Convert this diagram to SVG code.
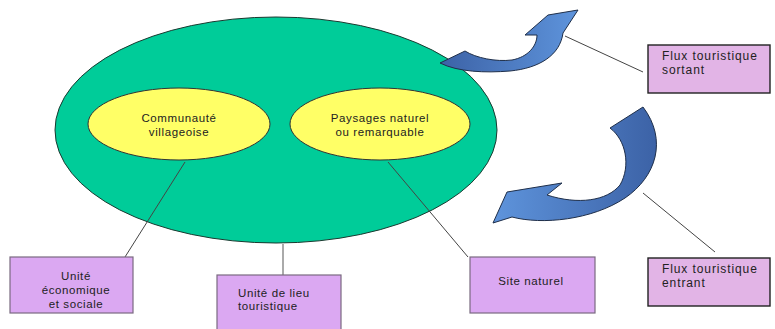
<svg xmlns="http://www.w3.org/2000/svg" width="775" height="329" viewBox="0 0 775 329">
<style>
text{font-family:"Liberation Sans",Arial,sans-serif;font-size:11.5px;fill:#222;letter-spacing:0.6px}
.c{text-anchor:middle}
.box{fill:#dba8f2;stroke:#7a6a80;stroke-width:1.2}
.flux{fill:#e2b4e6;stroke:#222;stroke-width:1.4}
.fx{font-size:12px;letter-spacing:0.9px}
.ln{stroke:#444;stroke-width:1;fill:none}
.arr{stroke:#1f2f4a;stroke-width:1}
</style>
<defs>
<linearGradient id="g1" x1="0" y1="0" x2="1" y2="0">
<stop offset="0" stop-color="#3c62a6"/><stop offset="1" stop-color="#5e94dc"/>
</linearGradient>
<linearGradient id="g2" x1="1" y1="0" x2="0" y2="0">
<stop offset="0" stop-color="#3c62a6"/><stop offset="1" stop-color="#5e94dc"/>
</linearGradient>
</defs>
<rect width="775" height="329" fill="#ffffff"/>
<g id="territoire">
<ellipse cx="276" cy="130" rx="221" ry="113" fill="#00cc99" stroke="#1a3a30" stroke-width="1"/>
</g>
<g id="connectors">
<line class="ln" x1="185" y1="162" x2="125" y2="257"/>
<line class="ln" x1="388" y1="162" x2="468" y2="257"/>
<line x1="283" y1="244" x2="283" y2="275" stroke="#aaaaaa" stroke-width="2"/>
<line class="ln" x1="565" y1="36" x2="643" y2="72"/>
<line class="ln" x1="643" y1="193" x2="715" y2="252"/>
</g>
<g id="communaute">
<ellipse cx="179" cy="124" rx="91" ry="36" fill="#ffff66" stroke="#333" stroke-width="1"/>
<text class="c" x="179" y="122">Communauté</text>
<text class="c" x="179" y="136">villageoise</text>
</g>
<g id="paysages">
<ellipse cx="380" cy="124" rx="90" ry="36" fill="#ffff66" stroke="#333" stroke-width="1"/>
<text class="c" x="380" y="122">Paysages naturel</text>
<text class="c" x="380" y="136">ou remarquable</text>
</g>
<g id="fleche-sortante">
<path class="arr" fill="url(#g1)" d="M440,63 L465,51 C476,58 496,62 512,60 C528,57 537,46 537,35 L525,35 L548,15 L578,10 L563,33 C560,55 540,68 510,71 C485,73 458,72 440,63 Z"/>
</g>
<g id="fleche-entrante">
<path class="arr" fill="url(#g2)" d="M643,107 L610,128 C626,140 631,166 620,185 C607,201 578,205 547,195 L562,183 L507,192 L493,223 L512,217 C542,225 592,220 625,198 C656,177 668,140 643,107 Z"/>
</g>
<g id="unite-economique">
<rect class="box" x="10" y="257" width="123" height="56"/>
<text class="c" x="76" y="280">Unité</text>
<text class="c" x="76" y="294">économique</text>
<text class="c" x="76" y="308">et sociale</text>
</g>
<g id="unite-lieu">
<rect class="box" x="217" y="275" width="124" height="60"/>
<text x="238" y="297">Unité de lieu</text>
<text x="238" y="310">touristique</text>
</g>
<g id="site-naturel">
<rect class="box" x="470" y="257" width="125" height="56"/>
<text class="c" x="531" y="285">Site naturel</text>
</g>
<g id="flux-sortant">
<rect class="flux" x="648" y="45" width="122" height="48"/>
<text class="fx" x="662" y="60">Flux touristique</text>
<text class="fx" x="662" y="74">sortant</text>
</g>
<g id="flux-entrant">
<rect class="flux" x="648" y="258" width="122" height="48"/>
<text class="fx" x="662" y="273">Flux touristique</text>
<text class="fx" x="662" y="287">entrant</text>
</g>
</svg>
